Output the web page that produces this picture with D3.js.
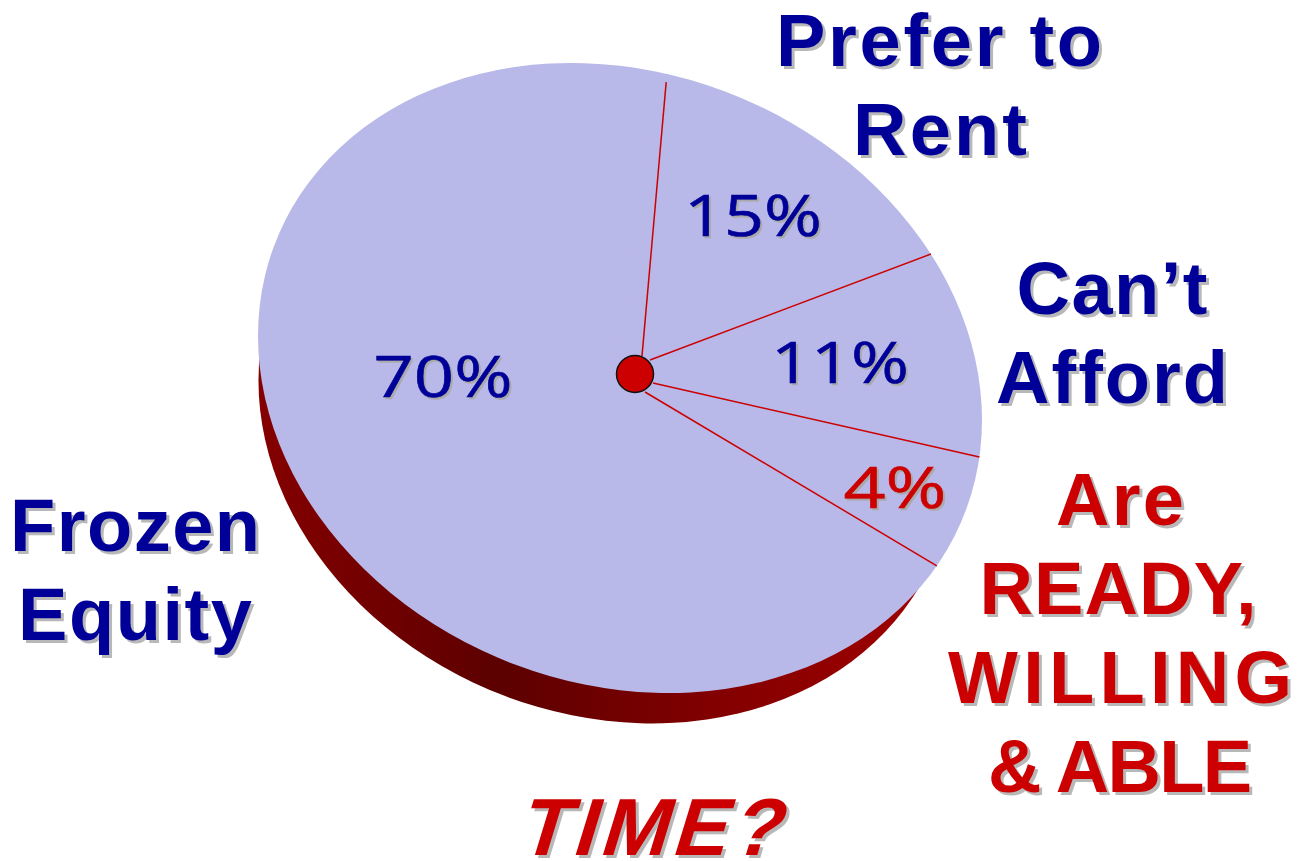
<!DOCTYPE html>
<html>
<head>
<meta charset="utf-8">
<script src="https://cdn.jsdelivr.net/npm/d3@7"></script>
<style>
  html, body { margin: 0; padding: 0; background: #fff; }
  svg { display: block; }
</style>
</head>
<body>
<div class="svg-div"></div>
<script>
const categories = ["Prefer to Rent", "Can't Afford", "Are Ready, Willing & Able", "Frozen Equity"];
const percentLabels = ["15%", "11%", "4%", "70%"];
// share of the rim each slice takes up as drawn in the picture (the tilt makes them differ from the labels)
const drawnShares = [14.3, 10.3, 6.0, 69.4];
const firstSpokeDegrees = 8.75;

const labelLines = ["Prefer to", "Rent", "Can’t", "Afford", "Are", "READY,", "WILLING", "& ABLE", "Frozen", "Equity"];
const footerLabel = ["TIME?"];

// layout, kept apart from the values above
const labelLayout = [
  { x: 939, y: 66, w: 326, color: "navy" },
  { x: 940, y: 155, w: 174, color: "navy" },
  { x: 1112, y: 314, w: 191, color: "navy" },
  { x: 1112, y: 403, w: 232, color: "navy" },
  { x: 1120, y: 525, w: 128, color: "red" },
  { x: 1118, y: 614, w: 277, color: "red" },
  { x: 1120, y: 703, w: 344, color: "red" },
  { x: 1120, y: 792, w: 264, color: "red" },
  { x: 135, y: 551, w: 250, color: "navy" },
  { x: 135, y: 640, w: 234, color: "navy" }
];
const percentLayout = [
  { x: 753, y: 236, w: 138, color: "navy" },
  { x: 840, y: 383, w: 138, color: "navy" },
  { x: 895, y: 508, w: 103, color: "red" },
  { x: 443, y: 397, w: 139, color: "navy" }
];
const footerLayout = [{ x: 647, y: 855, w: 262, color: "red" }];
const colors = { navy: "#000099", red: "#cc0000" };

// where each spoke leaves the hub, and how far it runs toward the rim
const spokeLayout = [
  { x: 642, y: 356, reach: 0.973 },
  { x: 650, y: 360, reach: 1 },
  { x: 653, y: 383, reach: 1 },
  { x: 645, y: 392, reach: 1 }
];

const svgWidth = 1310, svgHeight = 861;
const rimRadius = 362;
const shear = 0.116, squash = 0.8624;
const discCenter = [620, 378];
const baseCenter = [606, 421];
const baseScale = 0.96;
const apex = [613, 374];
const hub = [635, 374];

function tiltMatrix (center, s) {
  return `matrix(${s},${shear * s},0,${squash * s},${center[0]},${center[1]})`;
}

const svg = d3.select(".svg-div").append("svg")
  .attr("width", svgWidth)
  .attr("height", svgHeight)
  .style("font-family", "'Liberation Sans', Arial, sans-serif");

const defs = svg.append("defs");
// gradient runs in the wall's own (untilted) coordinates
const grad = defs.append("linearGradient")
  .attr("id", "wall")
  .attr("gradientUnits", "userSpaceOnUse")
  .attr("x1", -362).attr("x2", 337).attr("y1", 0).attr("y2", 0);
grad.append("stop").attr("offset", "0").attr("stop-color", "#850000");
grad.append("stop").attr("offset", "0.36").attr("stop-color", "#5c0000");
grad.append("stop").attr("offset", "0.66").attr("stop-color", "#800000");
grad.append("stop").attr("offset", "1").attr("stop-color", "#a00000");

const discArc = d3.arc()
  .innerRadius(0)
  .outerRadius(rimRadius)
  .startAngle(0)
  .endAngle(2 * Math.PI);

defs.append("clipPath")
  .attr("id", "rim")
  .append("path")
  .attr("d", discArc())
  .attr("transform", tiltMatrix(discCenter, 1));

// side wall: a slightly smaller disc further away, showing under the rim
svg.append("path")
  .attr("d", discArc())
  .attr("fill", "url(#wall)")
  .attr("transform", tiltMatrix(baseCenter, baseScale));

const start = firstSpokeDegrees * Math.PI / 180;
const pie = d3.pie()
  .sort(null)
  .startAngle(start)
  .endAngle(start + 2 * Math.PI);
const arcs = pie(drawnShares);

const sliceArc = d3.arc()
  .innerRadius(0)
  .outerRadius(rimRadius * 1.3);

svg.append("g")
  .attr("clip-path", "url(#rim)")
  .append("g")
  .attr("transform", tiltMatrix(apex, 1))
  .selectAll(".slice")
  .data(arcs)
  .enter()
  .append("path")
  .attr("class", "slice")
  .attr("d", sliceArc)
  .attr("fill", "#b9b9e9")
  .attr("stroke", "#b9b9e9")
  .append("title")
  .text((d, i) => categories[i]);

// point on the rim along a pie angle, seen from the apex
function rimPoint (angle, reach) {
  const ox = (apex[0] - discCenter[0]) / rimRadius;
  const oy = ((apex[1] - discCenter[1]) / rimRadius - shear * ox) / squash;
  const dx = Math.sin(angle), dy = -Math.cos(angle);
  const b = ox * dx + oy * dy;
  const t = (-b + Math.sqrt(b * b - (ox * ox + oy * oy - 1))) * reach;
  const px = ox + t * dx, py = oy + t * dy;
  return [discCenter[0] + rimRadius * px, discCenter[1] + rimRadius * (shear * px + squash * py)];
}

const spokeLine = d3.line();
svg.append("g").selectAll(".spoke")
  .data(arcs)
  .enter()
  .append("path")
  .attr("class", "spoke")
  .attr("d", (d, i) => spokeLine([[spokeLayout[i].x, spokeLayout[i].y], rimPoint(d.startAngle, spokeLayout[i].reach)]))
  .attr("fill", "none")
  .attr("stroke", "#cc0000")
  .attr("stroke-width", 1.5);

svg.append("circle")
  .attr("cx", hub[0])
  .attr("cy", hub[1])
  .attr("r", 18.5)
  .attr("fill", "#cc0000")
  .attr("stroke", "#111")
  .attr("stroke-width", 1.5);

function drawText (texts, layout, opts) {
  [{ dx: opts.shadow, dy: opts.shadow, fill: opts.shadowColor }, { dx: 0, dy: 0 }].forEach(pass => {
    svg.append("g").selectAll("text")
      .data(texts)
      .enter()
      .append("text")
      .attr("transform", (d, i) => `translate(${layout[i].x + pass.dx},${layout[i].y + pass.dy}) skewX(${opts.skew || 0})`)
      .attr("text-anchor", "middle")
      .attr("font-size", opts.size)
      .attr("font-weight", opts.weight)
      .attr("font-family", opts.family)
      .attr("textLength", (d, i) => layout[i].w)
      .attr("lengthAdjust", opts.adjust)
      .attr("fill", (d, i) => pass.fill || colors[layout[i].color])
      .attr("stroke", (d, i) => opts.bolden ? (pass.fill || colors[layout[i].color]) : null)
      .attr("stroke-width", opts.bolden || null)
      .text(d => d);
  });
}

drawText(percentLabels, percentLayout, { size: 57, weight: 400, family: "'Open Sans'", adjust: "spacingAndGlyphs", shadow: 2, shadowColor: "#aaaaaa", bolden: 0.6 });
drawText(labelLines, labelLayout, { size: 74, weight: 700, family: null, adjust: "spacing", shadow: 3, shadowColor: "#b8b8b8" });
drawText(footerLabel, footerLayout, { size: 81, weight: 700, family: null, adjust: "spacing", shadow: 3, shadowColor: "#b8b8b8", skew: -17 });
</script>
</body>
</html>
